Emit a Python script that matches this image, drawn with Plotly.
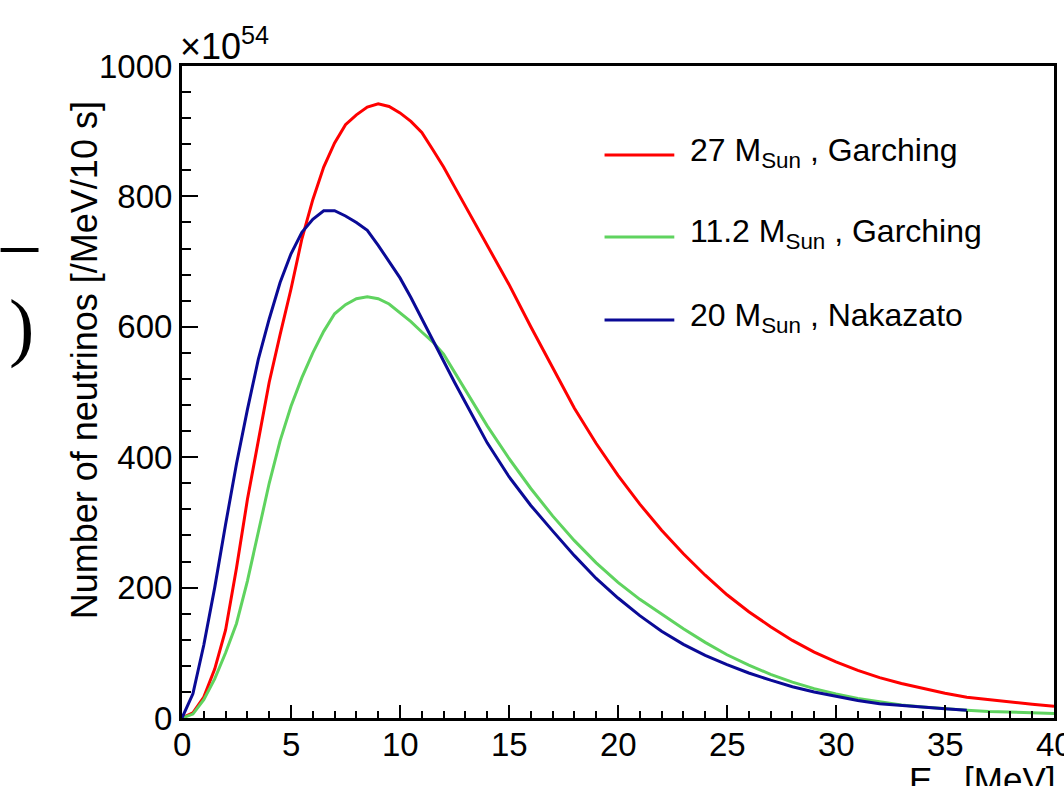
import plotly.graph_objects as go

# ---------------- data ----------------
energy_fine = [0, 0.5, 1, 1.5, 2, 2.5, 3, 3.5, 4, 4.5, 5, 5.5, 6, 6.5, 7, 7.5, 8, 8.5,
               9, 9.5, 10, 10.5, 11, 11.5, 12, 12.5, 13, 13.5, 14, 15, 16, 17, 18, 19,
               20, 21, 22, 23, 24, 25, 26, 27, 28, 29, 30, 31, 32, 33, 34, 35, 36,
               37, 38, 39, 40]

red_27_garching = [0, 8, 32, 75, 135, 230, 335, 425, 515, 588, 658, 735, 795, 845, 882,
                   910, 925, 937, 942, 938, 928, 915, 898, 872, 845, 815, 785, 755, 725,
                   665, 600, 537, 475, 421, 372, 328, 288, 252, 219, 189, 163, 140, 119,
                   101, 86, 73, 62, 53, 45, 38, 32, 28, 24, 21, 18]

green_11_garching = [0, 6, 28, 60, 100, 145, 210, 285, 360, 425, 478, 522, 560, 593, 620,
                     634, 643, 646, 643, 635, 622, 608, 592, 577, 558, 530, 502, 475, 448,
                     398, 352, 310, 272, 238, 208, 182, 159, 137, 116, 97, 81, 67, 55,
                     45, 37, 30, 25, 20, 17, 14, 12, 10, 9, 8, 7]

energy_blue = [0, 0.5, 1, 1.5, 2, 2.5, 3, 3.5, 4, 4.5, 5, 5.5, 6, 6.5, 7, 7.5, 8, 8.5,
               9, 9.5, 10, 10.5, 11, 11.5, 12, 12.5, 13, 13.5, 14, 15, 16, 17, 18, 19,
               20, 21, 22, 23, 24, 25, 26, 27, 28, 29, 30, 31, 32, 33, 34, 35, 36]

blue_20_nakazato = [0, 37, 112, 200, 297, 390, 473, 550, 612, 668, 712, 745, 765, 778, 778,
                    770, 760, 748, 725, 700, 675, 645, 612, 580, 547, 515, 484, 453, 422,
                    370, 326, 287, 249, 214, 184, 157, 133, 113, 96, 82, 69, 58, 48, 40,
                    33, 27, 22, 19, 16, 14, 12]

series_names = ["27 M<sub>Sun</sub> , Garching",
                "11.2 M<sub>Sun</sub> , Garching",
                "20 M<sub>Sun</sub> , Nakazato"]
series_colors = ["#ff0000", "#5fd35f", "#0a0a96"]

x_ticks = [0, 5, 10, 15, 20, 25, 30, 35, 40]
y_ticks = [0, 200, 400, 600, 800, 1000]

# ---------------- layout geometry ----------------
W, H = 1064, 786
L, R, T, B = 182, 7, 66, 68
PW, PH = W - L - R, H - T - B
FONT = "Liberation Sans, Arial, Helvetica, sans-serif"


def px_x(p):
    return (p - L) / PW


def px_y(p):
    return (H - B - p) / PH


fig = go.Figure()
xs = [energy_fine, energy_fine, energy_blue]
ys = [red_27_garching, green_11_garching, blue_20_nakazato]
for x, y, name, col in zip(xs, ys, series_names, series_colors):
    fig.add_trace(go.Scatter(x=x, y=y, mode="lines", name=name,
                             line=dict(color=col, width=3), showlegend=False))

axis_common = dict(showline=True, linecolor="black", linewidth=3, mirror=True,
                   ticks="inside", tickcolor="black", tickwidth=2,
                   showgrid=False, zeroline=False,
                   tickfont=dict(family=FONT, size=33, color="black"))

fig.update_xaxes(range=[0, 40], tickvals=x_ticks, showticklabels=False, ticklen=13,
                 minor=dict(ticks="inside", dtick=1, ticklen=7, tickwidth=2, tickcolor="black"),
                 **axis_common)
fig.update_yaxes(range=[0, 1000], tickvals=y_ticks, ticklen=16,
                 minor=dict(ticks="inside", dtick=40, ticklen=9, tickwidth=2, tickcolor="black"),
                 ticklabelstandoff=0, **axis_common)

annotations = []
shapes = []

# x tick labels (placed lower, ROOT style; the last one is cut by the right edge)
for v in x_ticks:
    annotations.append(dict(xref="x", yref="paper", x=v, y=px_y(724),
                            xanchor="center", yanchor="top", showarrow=False,
                            text=str(v), font=dict(family=FONT, size=33, color="black")))

# manual legend (line samples + labels)
legend_y = [155, 237, 320]
for yy, name, col in zip(legend_y, series_names, series_colors):
    shapes.append(dict(type="line", xref="paper", yref="paper",
                       x0=px_x(606), x1=px_x(676), y0=px_y(yy), y1=px_y(yy),
                       line=dict(color=col, width=3)))
    annotations.append(dict(xref="paper", yref="paper", x=px_x(690), y=px_y(yy - 3),
                            xanchor="left", yanchor="middle", showarrow=False,
                            text=name, font=dict(family=FONT, size=32, color="black")))

# y-axis title
annotations.append(dict(xref="paper", yref="paper", x=px_x(85), y=px_y(360),
                        xanchor="center", yanchor="middle", showarrow=False, textangle=-90,
                        text="Number of neutrinos [/MeV/10 s]",
                        font=dict(family=FONT, size=36, color="black")))
# x-axis title (cut by the bottom edge)
annotations.append(dict(xref="paper", yref="paper", x=px_x(1060), y=px_y(758),
                        xanchor="right", yanchor="top", showarrow=False,
                        text="E<sub>ν</sub>  [MeV]",
                        font=dict(family=FONT, size=35, color="black")))
# exponent label
annotations.append(dict(xref="paper", yref="paper", x=px_x(178), y=px_y(69),
                        xanchor="left", yanchor="bottom", showarrow=False,
                        text="×10<sup>54</sup>",
                        font=dict(family=FONT, size=36, color="black")))
# cropped fragments at the left edge of the reference
shapes.append(dict(type="line", xref="paper", yref="paper",
                   x0=px_x(0), x1=px_x(38), y0=px_y(250), y1=px_y(250),
                   line=dict(color="black", width=4)))
annotations.append(dict(xref="paper", yref="paper", x=px_x(6), y=px_y(326),
                        xanchor="left", yanchor="middle", showarrow=False,
                        text=")", font=dict(family="Liberation Serif, Times New Roman, serif",
                                            size=76, color="black")))

fig.update_layout(width=W, height=H, margin=dict(l=L, r=R, t=T, b=B),
                  paper_bgcolor="white", plot_bgcolor="white",
                  shapes=shapes, annotations=annotations, showlegend=False)

fig.write_html("out.html", config={"displayModeBar": False},
               post_script="document.body.style.margin='0px';document.body.style.overflow='hidden';")
